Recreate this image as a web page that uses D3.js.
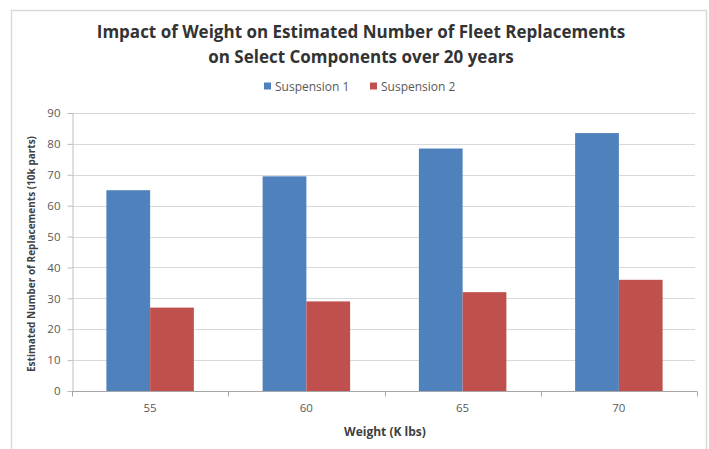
<!DOCTYPE html>
<html>
<head>
<meta charset="utf-8">
<script src="https://cdn.jsdelivr.net/npm/d3@7"></script>
<style>
  html, body { margin: 0; padding: 0; background: #fff; }
  svg { display: block; }
  text { font-family: "Open Sans", "Noto Sans", sans-serif; }
</style>
</head>
<body>
<svg id="chart" width="709" height="449"></svg>
<script>
// Weights (K lbs) on the category axis
const weights = ["55", "60", "65", "70"];
// Series names
const seriesNames = ["Suspension 1", "Suspension 2"];
// Estimated replacements (10k parts)
const suspension1 = [65, 69.5, 78.5, 83.5];
const suspension2 = [27, 29, 32, 36];
// Value axis ticks
const yTicks = [0, 10, 20, 30, 40, 50, 60, 70, 80, 90];

const colors = { "Suspension 1": "#4F81BD", "Suspension 2": "#C0504D" };
const seriesValues = { "Suspension 1": suspension1, "Suspension 2": suspension2 };

const svg = d3.select("#chart");
const plot = { left: 72, right: 697, top: 113, bottom: 391 };

// chart-area frame
svg.append("rect")
  .attr("x", 11.5).attr("y", 10.5)
  .attr("width", 695).attr("height", 450)
  .attr("fill", "#fff").attr("stroke", "#d9d9d9").attr("stroke-width", 1.5);

const x = d3.scaleBand()
  .domain(weights)
  .range([plot.left, plot.right])
  .paddingInner(0.44)
  .paddingOuter(0.22);

const xs = d3.scaleBand()
  .domain(seriesNames)
  .range([0, x.bandwidth()]);

const y = d3.scaleLinear()
  .domain([0, 90])
  .range([plot.bottom, plot.top]);

// gridlines
svg.append("g")
  .selectAll("line")
  .data(yTicks.filter(d => d > 0))
  .join("line")
  .attr("x1", plot.left).attr("x2", plot.right - 2)
  .attr("y1", d => Math.round(y(d)) + 0.5).attr("y2", d => Math.round(y(d)) + 0.5)
  .attr("stroke", "#d9d9d9").attr("stroke-width", 1.2);

// y axis
const yAxis = svg.append("g")
  .attr("transform", `translate(${plot.left + 0.5},0)`)
  .call(d3.axisLeft(y).tickValues(yTicks).tickSize(5).tickPadding(7));
yAxis.select(".domain").attr("stroke", "#bfbfbf");
yAxis.selectAll(".tick line").attr("stroke", "#bfbfbf");
yAxis.selectAll(".tick text")
  .attr("fill", "#595959")
  .style("font-family", "'Open Sans', sans-serif")
  .style("font-size", "11.5px");

// bars
const groups = svg.append("g")
  .selectAll("g")
  .data(weights)
  .join("g")
  .attr("transform", d => `translate(${x(d)},0)`);

groups.selectAll("rect")
  .data((d, i) => seriesNames.map(s => ({ s, v: seriesValues[s][i] })))
  .join("rect")
  .attr("x", d => xs(d.s))
  .attr("width", xs.bandwidth())
  .attr("y", d => y(d.v))
  .attr("height", d => y(0) - y(d.v))
  .attr("fill", d => colors[d.s]);

// x axis line and boundary ticks
const xAxisY = Math.round(y(0)) + 0.5;
svg.append("line")
  .attr("x1", plot.left).attr("x2", plot.right)
  .attr("y1", xAxisY).attr("y2", xAxisY)
  .attr("stroke", "#a6a6a6");
svg.append("g")
  .selectAll("line")
  .data(d3.range(weights.length + 1))
  .join("line")
  .attr("x1", i => Math.round(plot.left + i * x.step()) + 0.5)
  .attr("x2", i => Math.round(plot.left + i * x.step()) + 0.5)
  .attr("y1", xAxisY).attr("y2", xAxisY + 5)
  .attr("stroke", "#a6a6a6");

// category labels
svg.append("g")
  .selectAll("text")
  .data(weights)
  .join("text")
  .attr("x", d => x(d) + x.bandwidth() / 2)
  .attr("y", 412)
  .attr("text-anchor", "middle")
  .attr("fill", "#595959")
  .style("font-size", "11.5px")
  .text(d => d);

// axis titles
svg.append("text")
  .attr("x", 385).attr("y", 436)
  .attr("text-anchor", "middle")
  .attr("fill", "#404040")
  .style("font-size", "12px").style("font-weight", "bold")
  .text("Weight (K lbs)");

svg.append("text")
  .attr("transform", "translate(35,254) rotate(-90)")
  .attr("text-anchor", "middle")
  .attr("fill", "#404040")
  .style("font-size", "10px").style("font-weight", "bold")
  .text("Estimated Number of Replacements (10k parts)");

// title
const title = svg.append("text")
  .attr("text-anchor", "middle")
  .attr("fill", "#333333")
  .style("font-size", "17px").style("font-weight", "bold");
title.append("tspan").attr("x", 361).attr("y", 38)
  .text("Impact of Weight on Estimated Number of Fleet Replacements");
title.append("tspan").attr("x", 361).attr("y", 63)
  .text("on Select Components over 20 years");

// legend
const legendItems = [
  { s: "Suspension 1", x: 264 },
  { s: "Suspension 2", x: 370 }
];
const lg = svg.append("g").selectAll("g")
  .data(legendItems)
  .join("g")
  .attr("transform", d => `translate(${d.x},86)`);
lg.append("rect")
  .attr("x", 0).attr("y", -3.5).attr("width", 7).attr("height", 7)
  .attr("fill", d => colors[d.s]);
lg.append("text")
  .attr("x", 11).attr("y", 4.5)
  .attr("fill", "#595959")
  .style("font-size", "12px")
  .text(d => d.s);
</script>
</body>
</html>
